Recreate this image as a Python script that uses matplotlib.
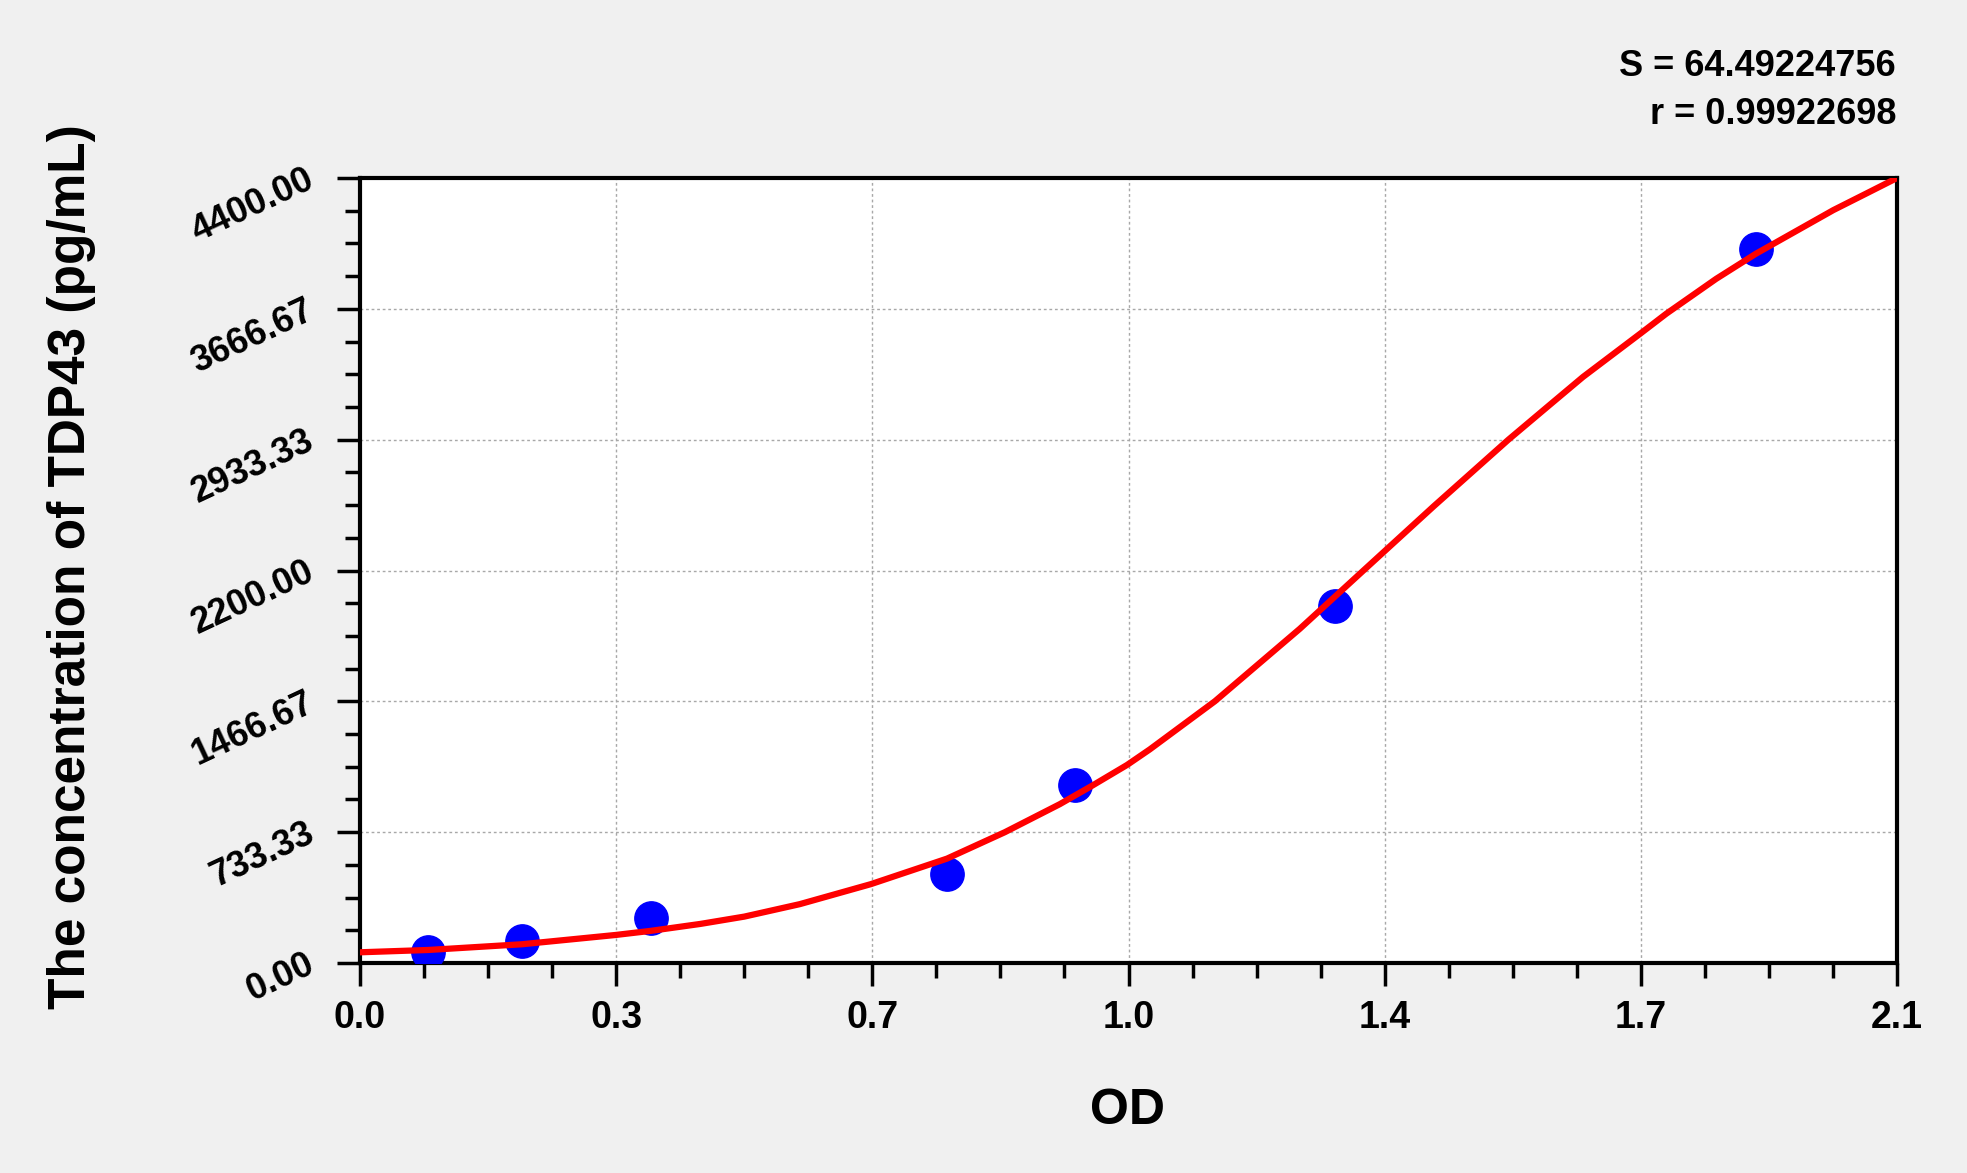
import matplotlib
matplotlib.use('Agg')
import matplotlib.pyplot as plt
from matplotlib.ticker import FixedLocator, MultipleLocator

plt.rcParams['font.family'] = ['Liberation Sans', 'DejaVu Sans']
plt.rcParams['font.weight'] = 'bold'

# standards (OD vs concentration)
od = [0.093, 0.221, 0.397, 0.802, 0.977, 1.332, 1.907]
conc = [62.5, 125, 250, 500, 1000, 2000, 4000]

# fitted curve
curve_od = [0.0, 0.093, 0.221, 0.349, 0.397, 0.465, 0.525, 0.601, 0.698, 0.802,
            0.881, 0.956, 1.0, 1.048, 1.079, 1.168, 1.284, 1.371, 1.467, 1.569,
            1.626, 1.671, 1.75, 1.785, 1.853, 1.907, 2.013, 2.059, 2.1]
curve_conc = [60, 73, 105, 157, 180, 219, 260, 330, 442, 585,
              733, 890, 993, 1110, 1197, 1467, 1873, 2200, 2560, 2933,
              3130, 3285, 3530, 3640, 3835, 3975, 4220, 4315, 4400]

x_ticks = [0.0, 0.35, 0.7, 1.05, 1.4, 1.75, 2.1]
x_labels = ['0.0', '0.3', '0.7', '1.0', '1.4', '1.7', '2.1']
y_ticks = [0, 733.33, 1466.67, 2200, 2933.33, 3666.67, 4400]
y_labels = ['0.00', '733.33', '1466.67', '2200.00', '2933.33', '3666.67', '4400.00']

W, H = 1967, 1173
fig = plt.figure(figsize=(W / 100, H / 100), dpi=100)
fig.patch.set_facecolor('#f0f0f0')
ax = fig.add_axes([360 / W, 1 - 963 / H, 1537 / W, 785 / H])
ax.set_facecolor('white')

ax.plot(od, conc, 'o', color='#0000ff', markersize=24, zorder=3)
ax.plot(curve_od, curve_conc, '-', color='#ff0000', linewidth=4.5, zorder=4,
        solid_capstyle='round', solid_joinstyle='round')

ax.set_xlim(0, 2.1)
ax.set_ylim(0, 4400)
ax.xaxis.set_major_locator(FixedLocator(x_ticks))
ax.set_xticklabels(x_labels)
ax.xaxis.set_minor_locator(MultipleLocator(0.0875))
ax.yaxis.set_major_locator(FixedLocator(y_ticks))
ax.set_yticklabels(y_labels)
ax.yaxis.set_minor_locator(MultipleLocator(4400 / 24))

ax.grid(True, which='major', color='#a8a8a8', linestyle=(0, (2, 2)), linewidth=1)
for s in ax.spines.values():
    s.set_linewidth(3)

ax.tick_params(which='major', length=16.5, width=2.5, direction='out')
ax.tick_params(which='minor', length=10.5, width=2.5, direction='out')
ax.tick_params(axis='x', which='major', labelsize=27, pad=10)
ax.tick_params(axis='y', which='major', labelsize=26, pad=18)
for lab in ax.get_yticklabels():
    lab.set_rotation(25)
    lab.set_rotation_mode('anchor')
    lab.set_ha('right')
    lab.set_va('center')
for lab in ax.get_xticklabels() + ax.get_yticklabels():
    lab.set_fontweight('bold')

fig.text(1127 / W, 1 - 1111 / H, 'OD', fontsize=36, fontweight='bold',
         ha='center', va='center')
fig.text(72 / W, 1 - 567 / H, 'The concentration of TDP43 (pg/mL)', fontsize=37,
         fontweight='bold', rotation=90, ha='center', va='center')
fig.text(1896 / W, 1 - 66 / H, 'S = 64.49224756', fontsize=26, fontweight='bold',
         ha='right', va='center')
fig.text(1896 / W, 1 - 115 / H, 'r = 0.99922698', fontsize=26, fontweight='bold',
         ha='right', va='center')

fig.savefig('out.png', dpi=100, facecolor=fig.get_facecolor())
